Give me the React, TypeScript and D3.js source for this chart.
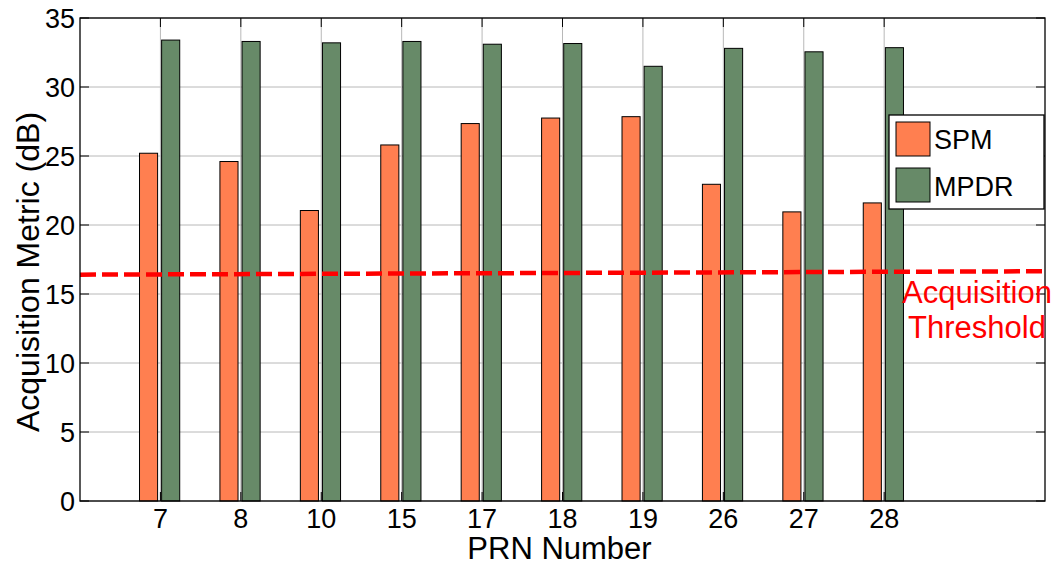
import React from "react";
import * as d3 from "d3";

const categories = ["7", "8", "10", "15", "17", "18", "19", "26", "27", "28"];
const spmValues = [25.2, 24.6, 21.05, 25.8, 27.35, 27.75, 27.85, 22.95, 20.95, 21.6];
const mpdrValues = [33.4, 33.3, 33.2, 33.3, 33.1, 33.15, 31.5, 32.8, 32.55, 32.85];
const yTicks = [0, 5, 10, 15, 20, 25, 30, 35];
const thresholdX = [0, 12];
const thresholdValues = [16.4, 16.65];
const seriesNames = ["SPM", "MPDR"];
const seriesColors = ["#FF7F50", "#678A68"];

const W = 1055;
const H = 565;
const left = 80;
const right = 1045;
const top = 18;
const bottom = 501;
const FONT = "'Liberation Sans', Arial, Helvetica, sans-serif";

export default function App() {
  const x = d3.scaleLinear().domain([0, 12]).range([left, right]);
  const y = d3.scaleLinear().domain([0, 35]).range([bottom, top]);
  const line = d3
    .line<number>()
    .x((_, i) => x(thresholdX[i]))
    .y((d) => y(d));

  const bw = 0.225;
  const spmOff = -0.26;
  const mpdrOff = 0.015;
  const tickLen = 9;

  return (
    <svg
      width={W}
      height={H}
      style={{ position: "absolute", left: 0, top: 0, background: "#fff" }}
      fontFamily={FONT}
    >
      <rect x={0} y={0} width={W} height={H} fill="#fff" />
      {yTicks.map((t) => (
        <line key={"gy" + t} x1={left} x2={right} y1={y(t)} y2={y(t)} stroke="#b8b8b8" strokeWidth={1} />
      ))}
      {categories.map((c, i) => (
        <line key={"gx" + c} x1={x(i + 1)} x2={x(i + 1)} y1={top} y2={bottom} stroke="#b8b8b8" strokeWidth={1} />
      ))}
      {categories.map((c, i) => (
        <g key={"b" + c}>
          <rect
            x={x(i + 1 + spmOff)}
            y={y(spmValues[i])}
            width={x(bw) - x(0)}
            height={y(0) - y(spmValues[i])}
            fill={seriesColors[0]}
            stroke="#000"
            strokeWidth={1}
          />
          <rect
            x={x(i + 1 + mpdrOff)}
            y={y(mpdrValues[i])}
            width={x(bw) - x(0)}
            height={y(0) - y(mpdrValues[i])}
            fill={seriesColors[1]}
            stroke="#000"
            strokeWidth={1}
          />
        </g>
      ))}
      <path d={line(thresholdValues) || ""} fill="none" stroke="#FF0000" strokeWidth={4.5} strokeDasharray="16,6" />
      <rect x={left} y={top} width={right - left} height={bottom - top} fill="none" stroke="#000" strokeWidth={1.3} />
      {yTicks.map((t) => (
        <g key={"ty" + t}>
          <line x1={left} x2={left + tickLen} y1={y(t)} y2={y(t)} stroke="#000" strokeWidth={1} />
          <line x1={right} x2={right - tickLen} y1={y(t)} y2={y(t)} stroke="#000" strokeWidth={1} />
          <text x={left - 5} y={y(t)} dy="0.36em" textAnchor="end" fontSize={27} fill="#000">
            {t}
          </text>
        </g>
      ))}
      {categories.map((c, i) => (
        <g key={"tx" + c}>
          <line x1={x(i + 1)} x2={x(i + 1)} y1={bottom} y2={bottom - tickLen} stroke="#000" strokeWidth={1} />
          <line x1={x(i + 1)} x2={x(i + 1)} y1={top} y2={top + tickLen} stroke="#000" strokeWidth={1} />
          <text x={x(i + 1)} y={528} textAnchor="middle" fontSize={27} fill="#000">
            {c}
          </text>
        </g>
      ))}
      <text x={(left + right) / 2 - 3} y={559} textAnchor="middle" fontSize={31} fill="#000">
        PRN Number
      </text>
      <text
        transform={`translate(39, 272) rotate(-90)`}
        textAnchor="middle"
        fontSize={32}
        fill="#000"
      >
        Acquisition Metric (dB)
      </text>
      <text x={977} y={303} textAnchor="middle" fontSize={31} fill="#FF0000">
        Acquisition
      </text>
      <text x={977} y={338} textAnchor="middle" fontSize={31} fill="#FF0000">
        Threshold
      </text>
      <rect x={889} y={115} width={155} height={94} fill="#fff" stroke="#000" strokeWidth={1.3} />
      {seriesNames.map((n, i) => (
        <g key={"lg" + n}>
          <rect x={896} y={122 + i * 46} width={34} height={34} fill={seriesColors[i]} stroke="#000" strokeWidth={1} />
          <text x={934} y={149 + i * 47} fontSize={27} fill="#000">
            {n}
          </text>
        </g>
      ))}
    </svg>
  );
}
